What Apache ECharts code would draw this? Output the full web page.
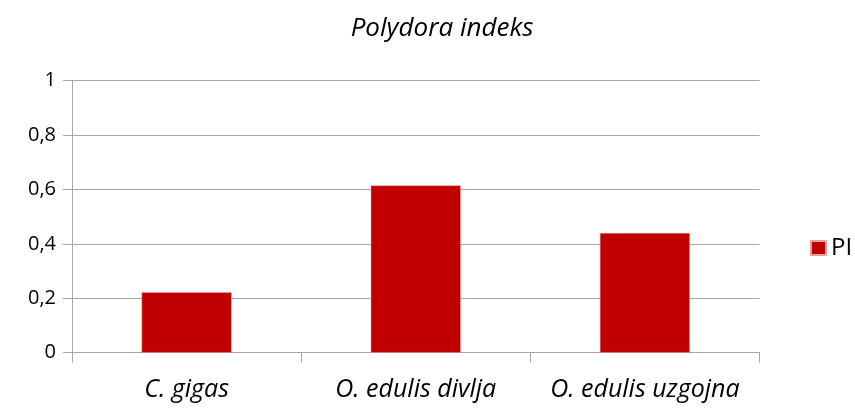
<!DOCTYPE html>
<html>
<head>
<meta charset="utf-8">
<script src="https://cdn.jsdelivr.net/npm/echarts@6/dist/echarts.min.js"></script>
<style>
  html, body { margin: 0; padding: 0; background: #fff; }
  #main { width: 855px; height: 408px; }
</style>
</head>
<body>
<div id="main"></div>
<script>
// podaci
var categories = ['C. gigas', 'O. edulis divlja', 'O. edulis uzgojna']
var piValues = [0.222, 0.615, 0.44]
var seriesName = 'PI'

var font = 'Open Sans'
var chart = echarts.init(document.getElementById('main'))
var option = {
  animation: false,
  title: {
    text: 'Polydora indeks',
    left: 437,
    top: 11,
    textAlign: 'center',
    textStyle: { fontFamily: font, fontStyle: 'italic', fontWeight: 'normal', fontSize: 26, color: '#000' }
  },
  legend: {
    data: [seriesName],
    left: 805,
    top: 231,
    icon: 'rect',
    itemWidth: 15,
    itemHeight: 14,
    itemGap: 6,
    textStyle: { fontFamily: font, fontSize: 24, color: '#000', padding: [0, 0, 0, 0] }
  },
  grid: { left: 72, right: 95.5, top: 80.7, bottom: 55.3 },
  xAxis: {
    type: 'category',
    data: categories,
    axisLine: { lineStyle: { color: '#a6a6a6', width: 1 } },
    axisTick: { show: true, length: 10, lineStyle: { color: '#a6a6a6' } },
    axisLabel: {
      interval: 0, hideOverlap: false,
      fontFamily: font, fontStyle: 'italic', fontSize: 25, color: '#000', margin: 25
    }
  },
  yAxis: {
    type: 'value',
    min: 0,
    max: 1,
    interval: 0.2,
    axisLine: { show: true, lineStyle: { color: '#a6a6a6' } },
    axisTick: { show: true, length: 9, inside: false, lineStyle: { color: '#a6a6a6' } },
    splitLine: { lineStyle: { color: '#a6a6a6', width: 1 } },
    axisLabel: {
      fontFamily: font, fontSize: 20, color: '#000', margin: 16,
      formatter: function (v) { return String(Math.round(v * 10) / 10).replace('.', ',') }
    }
  },
  series: [{
    name: seriesName,
    type: 'bar',
    data: piValues,
    barWidth: 90,
    itemStyle: { color: '#c00000', borderColor: '#e8a0a0', borderWidth: 0.5 }
  }]
}
chart.setOption(option)
</script>
</body>
</html>
